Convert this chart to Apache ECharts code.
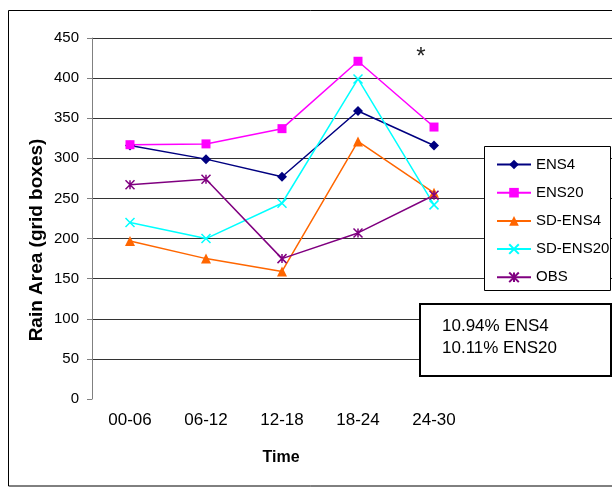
<!DOCTYPE html>
<html>
<head>
<meta charset="utf-8">
<script src="https://cdn.jsdelivr.net/npm/echarts@6/dist/echarts.min.js"></script>
<style>
html,body{margin:0;padding:0;background:#fff;}
#chart{width:612px;height:487px;}
</style>
</head>
<body>
<div id="chart"></div>
<script>
const categories = ['00-06', '06-12', '12-18', '18-24', '24-30'];
const ens4 = [316, 299, 277, 359, 316];
const ens20 = [317, 318, 337, 421, 339];
const sdEns4 = [197, 175, 159, 321, 257];
const sdEns20 = [220, 200, 244, 399, 242];
const obs = [267, 274, 175, 207, 254];
const seriesNames = ['ENS4', 'ENS20', 'SD-ENS4', 'SD-ENS20', 'OBS'];
const yMin = 0, yMax = 450, yStep = 50;
const noteLines = ['10.94% ENS4', '10.11% ENS20'];
const xTitle = 'Time';
const yTitle = 'Rain Area (grid boxes)';

const FONT = 'Liberation Sans, Arial, sans-serif';
const chart = echarts.init(document.getElementById('chart'), null, {renderer: 'canvas'});

const gridColors = [];
for (let v = yMin; v <= yMax; v += yStep) gridColors.push(v === yMin ? 'rgba(0,0,0,0)' : '#333');

function mk(name, data, color, symbol, size, stroke) {
  return {
    name: name, type: 'line', data: data, xAxisIndex: 1, yAxisIndex: 1,
    symbol: symbol, symbolSize: size, showSymbol: true,
    lineStyle: {color: color, width: 1.5},
    itemStyle: stroke ? {color: color, borderColor: color, borderWidth: 1.5} : {color: color, borderWidth: 0},
    emphasis: {disabled: true}, animation: false, z: 10
  };
}

const option = {
  animation: false,
  grid: [
    {left: 92, top: 38, width: 520, height: 361},
    {left: 92, top: 38, width: 380, height: 361}
  ],
  xAxis: [
    {gridIndex: 0, type: 'value', min: 0, max: 1, show: false},
    {gridIndex: 1, type: 'category', data: categories, boundaryGap: true,
     axisLine: {show: false}, axisTick: {show: false}, splitLine: {show: false},
     axisLabel: {fontSize: 17, color: '#000', margin: 13, fontFamily: FONT}}
  ],
  yAxis: [
    {gridIndex: 0, type: 'value', min: yMin, max: yMax, interval: yStep,
     axisLine: {show: false}, axisTick: {show: false}, axisLabel: {show: false},
     splitLine: {show: true, lineStyle: {color: gridColors, width: 1}}},
    {gridIndex: 1, type: 'value', min: yMin, max: yMax, interval: yStep,
     axisLine: {show: true, lineStyle: {color: '#808080', width: 1}},
     axisTick: {show: true, length: 5, lineStyle: {color: '#808080'}},
     splitLine: {show: false},
     axisLabel: {fontSize: 15, color: '#000', margin: 13, fontFamily: FONT}}
  ],
  legend: {
    data: seriesNames, orient: 'vertical', left: 491, top: 152,
    itemWidth: 34, itemHeight: 12, itemGap: 13.2, z: 60,
    textStyle: {fontSize: 15, color: '#000', fontFamily: FONT},
    selectedMode: false
  },
  series: [
    mk(seriesNames[0], ens4, '#000080', 'diamond', 10, false),
    mk(seriesNames[1], ens20, '#FF00FF', 'rect', 9, false),
    mk(seriesNames[2], sdEns4, '#FF6600', 'triangle', 10, false),
    mk(seriesNames[3], sdEns20, '#00FFFF', 'path://M0 0L10 10M10 0L0 10', 9, true),
    mk(seriesNames[4], obs, '#800080', 'path://M0 0L10 10M10 0L0 10M5 0L5 10', 9, true)
  ],
  graphic: [
    {type: 'rect', z: 1, silent: true, shape: {x: 8.5, y: 10.5, width: 640, height: 475.5},
     style: {fill: 'none', stroke: '#000', lineWidth: 1}},
    {type: 'rect', z: 50, silent: true, shape: {x: 484.5, y: 146.5, width: 126, height: 144},
     style: {fill: '#fff', stroke: '#000', lineWidth: 1}},
    {type: 'rect', z: 50, silent: true, shape: {x: 420, y: 304, width: 191, height: 72},
     style: {fill: '#fff', stroke: '#000', lineWidth: 2}},
    {type: 'text', z: 55, silent: true, x: 442, y: 326,
     style: {text: noteLines[0], font: '17px ' + FONT, fill: '#000', textVerticalAlign: 'middle'}},
    {type: 'text', z: 55, silent: true, x: 442, y: 348,
     style: {text: noteLines[1], font: '17px ' + FONT, fill: '#000', textVerticalAlign: 'middle'}},
    {type: 'text', z: 55, silent: true, x: 421, y: 57,
     style: {text: '*', font: '24px ' + FONT, fill: '#222', textAlign: 'center', textVerticalAlign: 'middle'}},
    {type: 'text', z: 55, silent: true, x: 281, y: 458,
     style: {text: xTitle, font: 'bold 16px ' + FONT, fill: '#000', textAlign: 'center', textVerticalAlign: 'middle'}},
    {type: 'text', z: 55, silent: true, x: 37, y: 240, rotation: Math.PI / 2,
     style: {text: yTitle, font: 'bold 19px ' + FONT, fill: '#000', textAlign: 'center', textVerticalAlign: 'middle'}}
  ]
};
chart.setOption(option);
</script>
</body>
</html>
